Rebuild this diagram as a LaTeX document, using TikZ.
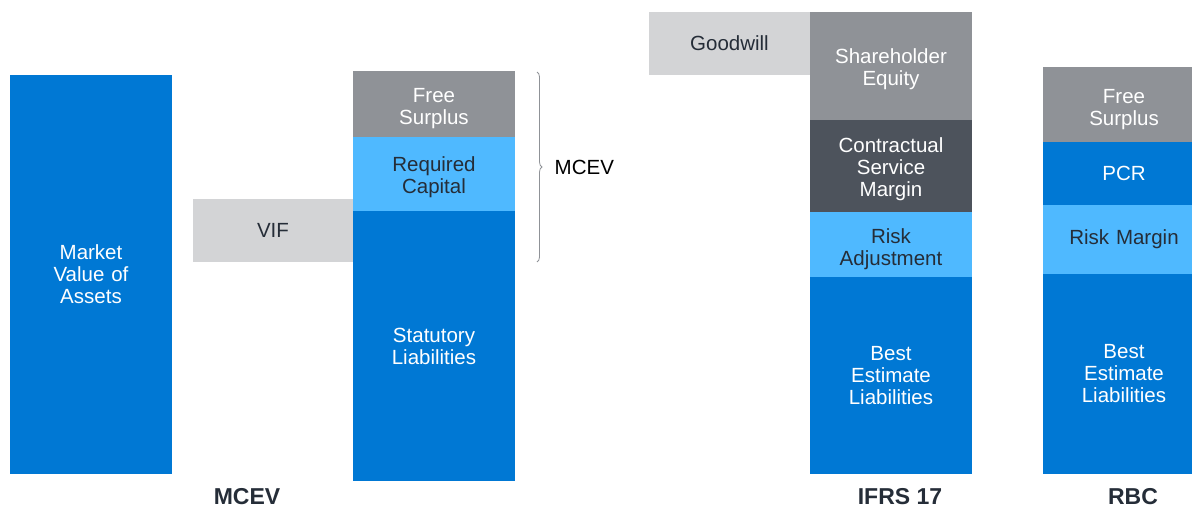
\documentclass[tikz,border=0pt]{standalone}
\usepackage{fontspec}
\setmainfont{Liberation Sans}
\usetikzlibrary{positioning,decorations.pathreplacing}
\definecolor{bsblue}{HTML}{0078D4}
\definecolor{bslight}{HTML}{4FB9FF}
\definecolor{bsgrey}{HTML}{8F9297}
\definecolor{bspale}{HTML}{D3D4D6}
\definecolor{bsdark}{HTML}{4D535C}
\definecolor{bstext}{HTML}{252D38}

\begin{document}
\begin{tikzpicture}[x=1pt, y=-1pt, node distance=0pt]
	\tikzset{
		block/.style={rectangle, inner sep=0pt, outer sep=0pt, minimum width=162pt, text width=150pt, align=center, font=\fontsize{20.5}{22}\selectfont},
		deep/.style={block, fill=bsblue, text=white},
		light/.style={block, fill=bslight, text=bstext},
		grey/.style={block, fill=bsgrey, text=white},
		pale/.style={block, fill=bspale, text=bstext},
		dark/.style={block, fill=bsdark, text=white},
		caption/.style={font=\fontsize{23}{25}\selectfont\bfseries, text=bstext},
	}
	\useasboundingbox (0,0) rectangle (1192,509);
	%MCEV balance sheet
	\node[deep, minimum height=399pt, anchor=north west](mva) at (10,75) {Market\\Value of\\Assets};
	\node[pale, minimum width=160pt, minimum height=63pt, anchor=north west](vif) at (193,199) {VIF};
	\node[grey, minimum height=66pt, anchor=north west](mcevfree) at (353,71) {\rule{0pt}{24pt}Free\\Surplus};
	\node[light, minimum height=74pt, below=of mcevfree](reqcap) {\rule{0pt}{21pt}Required\\Capital};
	\node[deep, minimum height=270pt, below=of reqcap](statliab) {Statutory\\Liabilities};
	\coordinate (bracetop) at (537,72);
	\coordinate (bracebot) at (537,262);
	\draw[bsgrey, thick, decorate, decoration={brace, amplitude=5pt}] (bracetop) -- (bracebot)
		node[midway, right=14pt, font=\fontsize{20.5}{22}\selectfont, text=black](mcevbrace) {MCEV};
	\node[caption](mcevlbl) at (247,497) {MCEV};
	%IFRS 17 balance sheet
	\node[pale, minimum width=161pt, minimum height=63pt, anchor=north west](goodwill) at (649,12) {Goodwill};
	\node[grey, minimum height=108pt, anchor=north west](equity) at (810,12) {\rule{0pt}{21pt}Shareholder\\Equity};
	\node[dark, minimum height=92pt, below=of equity](csm) {\rule{0pt}{21pt}Contractual\\Service\\Margin};
	\node[light, minimum height=65pt, below=of csm](riskadj) {\rule{0pt}{24pt}Risk\\Adjustment};
	\node[deep, minimum height=197pt, below=of riskadj](ifrsbel) {Best\\Estimate\\Liabilities};
	\node[caption](ifrslbl) at (900,497) {IFRS 17};
	%RBC balance sheet
	\node[grey, minimum height=75pt, anchor=north west](rbcfree) at (1043,67) {\rule{0pt}{24pt}Free\\Surplus};
	\node[deep, minimum height=63pt, below=of rbcfree](pcr) {PCR};
	\node[light, minimum height=69pt, below=of pcr](riskmargin) {Risk Margin};
	\node[deep, minimum height=200pt, below=of riskmargin](rbcbel) {Best\\Estimate\\Liabilities};
	\node[caption](rbclbl) at (1133,497) {RBC};
\end{tikzpicture}
\end{document}
